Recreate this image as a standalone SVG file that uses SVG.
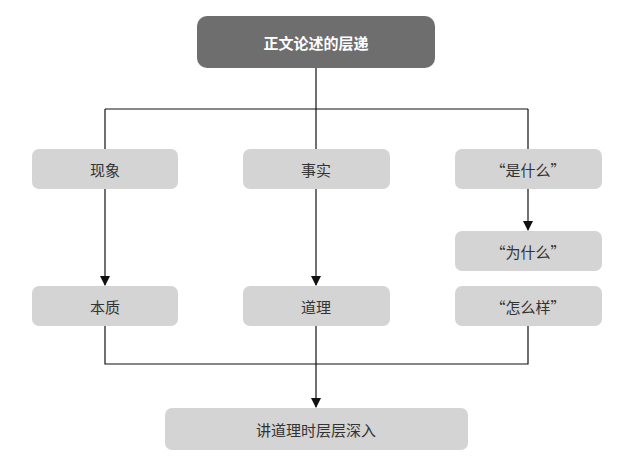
<svg xmlns="http://www.w3.org/2000/svg" width="624" height="461" viewBox="0 0 624 461">
<style>
.n{fill:#d4d4d4}
.t{font-family:"Noto Sans CJK SC","Noto Sans",sans-serif;font-size:15px;fill:#333;text-anchor:middle;dominant-baseline:central}
.c{fill:none;stroke:#111;stroke-width:1.2}
</style>
<defs>
<marker id="a" markerWidth="10" markerHeight="10" refX="9" refY="5" orient="auto" markerUnits="userSpaceOnUse">
<path d="M0,0 L10,5 L0,10 z" fill="#111"/>
</marker>
</defs>
<rect width="624" height="461" fill="#fff"/>
<g id="connectors">
<path class="c" d="M316,68 V109 M105,109 H528 M105,109 V149 M316,109 V149 M528,109 V149"/>
<path class="c" d="M105,189 V285" marker-end="url(#a)"/>
<path class="c" d="M316,189 V285" marker-end="url(#a)"/>
<path class="c" d="M528,189 V230" marker-end="url(#a)"/>
<path class="c" d="M105,326 V364 H528 V326"/>
<path class="c" d="M316,326 V407" marker-end="url(#a)"/>
</g>
<g id="top"><rect x="197" y="16" width="238" height="52" rx="10" fill="#6e6e6e"/><text class="t" x="316" y="42" style="fill:#fff;font-weight:bold">正文论述的层递</text></g>
<g id="n1"><rect class="n" x="32" y="149" width="146" height="40" rx="7"/><text class="t" x="105" y="169">现象</text></g>
<g id="n2"><rect class="n" x="243" y="149" width="147" height="40" rx="7"/><text class="t" x="316" y="169">事实</text></g>
<g id="n3"><rect class="n" x="455" y="149" width="147" height="40" rx="7"/><text class="t" x="528" y="169">“是什么”</text></g>
<g id="n4"><rect class="n" x="455" y="231" width="147" height="40" rx="7"/><text class="t" x="528" y="251">“为什么”</text></g>
<g id="n5"><rect class="n" x="32" y="286" width="146" height="40" rx="7"/><text class="t" x="105" y="306">本质</text></g>
<g id="n6"><rect class="n" x="243" y="286" width="147" height="40" rx="7"/><text class="t" x="316" y="306">道理</text></g>
<g id="n7"><rect class="n" x="455" y="286" width="147" height="40" rx="7"/><text class="t" x="528" y="306">“怎么样”</text></g>
<g id="n8"><rect class="n" x="165" y="408" width="303" height="42" rx="7"/><text class="t" x="316" y="429">讲道理时层层深入</text></g>
</svg>
